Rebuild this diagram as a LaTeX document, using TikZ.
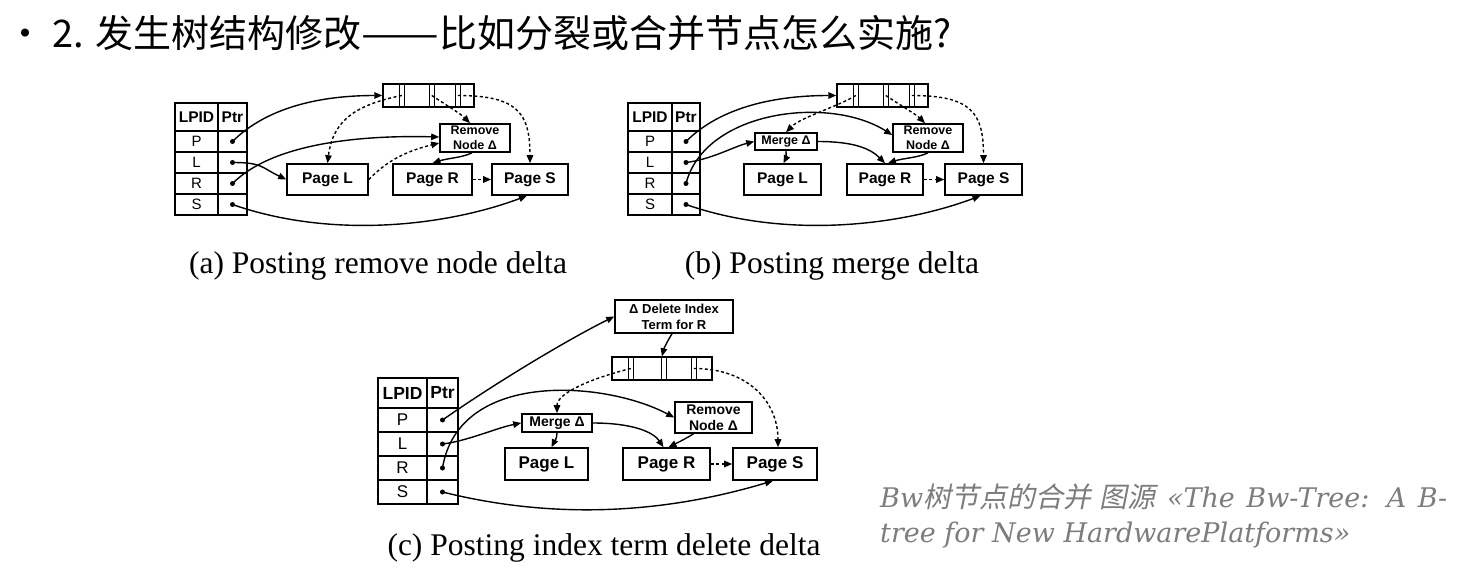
\documentclass[tikz,border=0pt]{standalone}
\usepackage{fontspec}
\setmainfont{Liberation Serif}
\newfontfamily\sans{Liberation Sans}
\newfontfamily\cjk{Noto Sans CJK SC}
\newfontfamily\cjksl[FakeSlant=0.2]{Noto Sans CJK SC}
\newfontfamily\capserif{DejaVu Serif}
\usetikzlibrary{arrows.meta}
\definecolor{capgray}{RGB}{125,125,125}
\tikzset{
  bx/.style={draw, line width=1.6pt, fill=white, inner sep=0pt, align=center},
  pg/.style={bx, font=\sans\bfseries\fontsize{15.5}{18}\selectfont},
  pgc/.style={bx, font=\sans\bfseries\fontsize{17}{20}\selectfont},
  sm/.style={bx, font=\sans\bfseries\fontsize{12.5}{15}\selectfont},
  smc/.style={bx, font=\sans\bfseries\fontsize{14}{16.5}\selectfont},
  smd/.style={bx, font=\sans\bfseries\fontsize{13}{16}\selectfont},
  rec/.style={draw, line width=1.4pt, fill=white, inner sep=0pt},
  recline/.style={line width=1.2pt},
  tabline/.style={line width=1.4pt},
  dot/.style={circle, fill=black, inner sep=0pt, minimum size=5pt},
  con/.style={line width=1.4pt, -{Triangle[length=8pt,width=6.5pt]}},
  dcon/.style={con, dash pattern=on 3pt off 2.5pt},
  capt/.style={inner sep=0pt, font=\fontsize{31.5}{36}\selectfont},
  gcap/.style={inner sep=0pt, text=capgray, font=\capserif\itshape\fontsize{27}{32}\selectfont}
}
% LPID table: #1 prefix, #2 x0, #3 xdiv, #4 x1, #5 ytop, #6 header bottom, #7 row height, #8 header font, #9 row font
\newcommand\lpidtab[9]{%
  \draw[tabline] (#2,#5) rectangle (#4,{#6+4*#7});
  \draw[tabline] (#3,#5) -- (#3,{#6+4*#7});
  \foreach \k in {0,...,3} {\draw[tabline] (#2,{#6+\k*#7}) -- (#4,{#6+\k*#7});}
  \node[inner sep=0pt, font=\sans\bfseries\fontsize{#8}{#8}\selectfont] (#1hL) at ({(#2+#3)/2},{(#5+#6)/2}) {LPID};
  \node[inner sep=0pt, font=\sans\bfseries\fontsize{#8}{#8}\selectfont] (#1hP) at ({(#3+#4)/2},{(#5+#6)/2}) {Ptr};
  \foreach \lab [count=\i from 0] in {P,L,R,S} {
    \node[inner sep=0pt, font=\sans\fontsize{#9}{#9}\selectfont] (#1\lab t) at ({(#2+#3)/2},{#6+(\i+0.5)*#7}) {\lab};
    \node[dot] (#1\lab d) at ({(#3+#4)/2},{#6+(\i+0.5)*#7}) {};
  }
}
% record: #1 name, #2 cx, #3 cy, #4 width, #5 height, #6 #7 #8 left offsets of the double lines
\newcommand\recbox[8]{%
  \node[rec, minimum width=#4, minimum height=#5] (#1) at (#2,#3) {};
  \foreach \o in {#6,#7,#8} {
    \draw[recline] ([xshift=\o]#1.north west) -- ([xshift=\o]#1.south west);
    \draw[recline] ([xshift=\o+5]#1.north west) -- ([xshift=\o+5]#1.south west);
  }
  \coordinate (#11) at ([xshift=#6+2.5]#1.west);
  \coordinate (#12) at ([xshift=#7+2.5]#1.west);
  \coordinate (#13) at ([xshift=#8+2.5]#1.west);
}
\begin{document}
\begin{tikzpicture}[x=1pt,y=-1pt]
\useasboundingbox (0,0) rectangle (1462,588);
\fill[white] (0,0) rectangle (1462,588);

% title
\node[anchor=west, inner sep=0pt, font=\cjk\fontsize{38}{42}\selectfont] (title) at (6,33) {• 2. 发生树结构修改\scalebox{1.22}[1]{——}比如分裂或合并节点怎么实施?};

% ---------------- (a)
\lpidtab{a}{175}{218}{247}{103}{131}{21}{15.5}{15}
\recbox{aA}{428.5}{95.5}{91}{23}{17}{47}{73}
\node[sm, minimum width=70, minimum height=28] (aRN) at (475,138) {Remove\\Node Δ};
\node[pg, minimum width=81, minimum height=31] (aPL) at (327.5,179.5) {Page L};
\node[pg, minimum width=79, minimum height=31] (aPR) at (432.5,179.5) {Page R};
\node[pg, minimum width=76, minimum height=31] (aPS) at (530,179.5) {Page S};

\draw[con] (aPd.center) .. controls +(35,-35) and +(-60,0) .. (aA.west);
\draw[con] (aLd.center) .. controls +(30,0) and +(-25,-12) .. (aPL.west);
\draw[con] (aRd.center) .. controls +(40,-40) and +(-80,-2) .. ([yshift=1]aRN.west);
\draw[con] (aSd.center) .. controls +(100,35) and +(-80,30) .. ([xshift=-3]aPS.south);
\draw[dcon] (aA1) .. controls +(-50,10) and +(5,-40) .. (aPL.north);
\draw[dcon] (aA2) .. controls +(15,10) and +(-10,-10) .. ([xshift=-5]aRN.north);
\draw[dcon] (aA3) .. controls +(60,0) and +(0,-50) .. (aPS.north);
\draw[dcon] (aPL.east) .. controls +(15,-15) and +(-40,10) .. ([yshift=-5]aRN.west);
\draw[con] ([xshift=-3]aRN.south) .. controls +(-10,5) and +(15,-5) .. (aPR.north);
\draw[dcon] (aPR) -- (aPS);
\node[capt, anchor=base] (capa) at (378,273) {(a) Posting remove node delta};

% ---------------- (b)
\lpidtab{b}{628}{672}{700}{103}{131}{21}{15.5}{15}
\recbox{bA}{882.5}{95.5}{91}{23}{17}{47}{73}
\node[sm, minimum width=70, minimum height=28] (bRN) at (928,138) {Remove\\Node Δ};
\node[sm, minimum width=62, minimum height=17] (bM) at (786,141.5) {Merge Δ};
\node[pg, minimum width=77, minimum height=31] (bPL) at (782.5,179.5) {Page L};
\node[pg, minimum width=76, minimum height=31] (bPR) at (885,179.5) {Page R};
\node[pg, minimum width=77, minimum height=31] (bPS) at (983.5,179.5) {Page S};

\draw[con] (bPd.center) .. controls +(35,-35) and +(-60,0) .. (bA.west);
\draw[con] (bLd.center) .. controls +(25,-3) and +(-20,5) .. (bM.west);
\draw[con] (bRd.center) .. controls +(19,-73) and +(-63,-40) .. ([yshift=3]bRN.west);
\draw[con] (bSd.center) .. controls +(100,35) and +(-80,30) .. ([xshift=-3]bPS.south);
\draw[dcon] (bA1) .. controls +(-20,12) and +(15,-15) .. (bM.north);
\draw[dcon] (bA2) .. controls +(12,8) and +(-8,-8) .. ([xshift=-3]bRN.north);
\draw[dcon] (bA3) .. controls +(60,0) and +(0,-50) .. (bPS.north);
\draw[con] (bM.south) .. controls +(0,6) and +(3,-6) .. ([xshift=1]bPL.north);
\draw[con] (bM.east) .. controls +(35,0) and +(-15,-15) .. (bPR.north);
\draw[con] (bRN.south) .. controls +(-10,5) and +(15,-5) .. ([xshift=3]bPR.north);
\draw[dcon] (bPR) -- (bPS);
\node[capt, anchor=base] (capb) at (832,273) {(b) Posting merge delta};

% ---------------- (c)
\node[smd, minimum width=118, minimum height=33] (cDI) at (674,316.5) {Δ Delete Index\\Term for R};
\recbox{cA}{662}{368.5}{100}{23}{17}{50}{80}
\lpidtab{c}{378}{427}{458}{378}{408}{24}{17.5}{17}
\node[smc, minimum width=77, minimum height=31] (cRN) at (713.5,417.5) {Remove\\Node Δ};
\node[smc, minimum width=70, minimum height=18] (cM) at (557,423) {Merge Δ};
\node[pgc, minimum width=83, minimum height=32] (cPL) at (546.5,464) {Page L};
\node[pgc, minimum width=87, minimum height=32] (cPR) at (666.5,464) {Page R};
\node[pgc, minimum width=84, minimum height=32] (cPS) at (775,464) {Page S};

\draw[con] (cPd.center) .. controls +(50,-35) and +(-50,25) .. (cDI.west);
\draw[con] ([xshift=-2]cDI.south) .. controls +(-5,8) and +(2,-8) .. (cA.north);
\draw[con] (cLd.center) .. controls +(25,-3) and +(-25,5) .. (cM.west);
\draw[con] (cRd.center) .. controls +(16,-98) and +(-70,-37) .. (cRN.west);
\draw[con] (cSd.center) .. controls +(120,30) and +(-100,30) .. ([xshift=-2]cPS.south);
\draw[dcon] (cA1) .. controls +(-40,10) and +(0,-20) .. (cM.north);
\draw[dcon] (cA3) .. controls +(55,0) and +(0,-45) .. ([xshift=3]cPS.north);
\draw[con] (cM.south) .. controls +(0,6) and +(3,-6) .. ([xshift=5]cPL.north);
\draw[con] (cM.east) .. controls +(40,0) and +(-10,-15) .. ([xshift=-3]cPR.north);
\draw[con] ([xshift=-20]cRN.south) .. controls +(-8,5) and +(10,-5) .. ([xshift=2]cPR.north);
\draw[dcon] (cPR) -- (cPS);
\node[capt, anchor=base] (capc) at (604,555) {(c) Posting index term delete delta};

% gray source note
\node[gcap, anchor=base west] (g1) at (880,507) {\makebox[567pt][s]{Bw{\cjksl\fontsize{28}{32}\selectfont 树节点的合并 图源} «The Bw-Tree: A B-}};
\node[gcap, anchor=base west] (g2) at (880,542) {tree for New HardwarePlatforms»};
\end{tikzpicture}
\end{document}
